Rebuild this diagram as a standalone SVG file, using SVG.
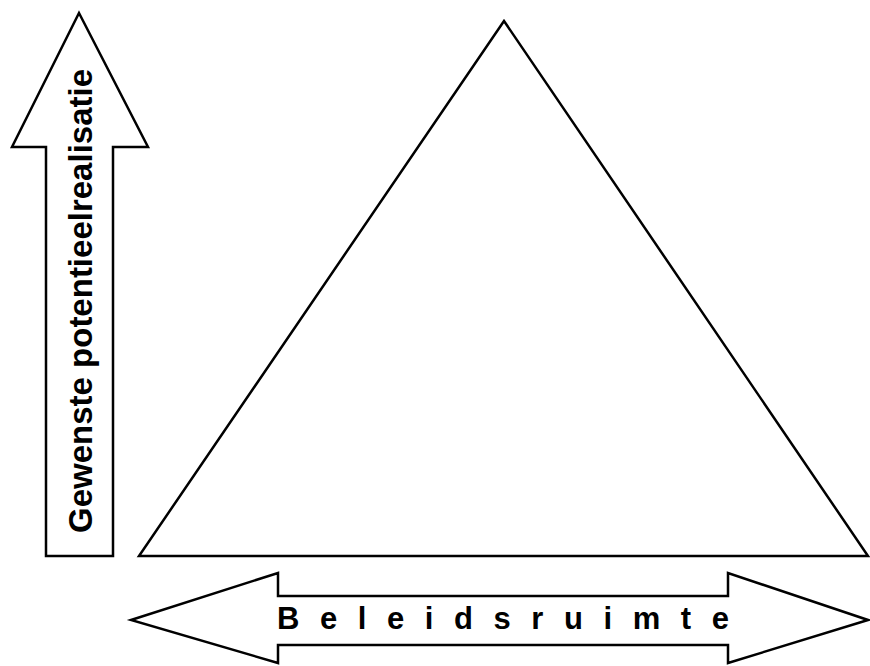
<svg xmlns="http://www.w3.org/2000/svg" width="870" height="666" viewBox="0 0 870 666">
<style>
.shape{fill:#ffffff;stroke:#000000;stroke-width:2.5;stroke-linejoin:miter}
.lbl{font-family:"Liberation Sans",Arial,sans-serif;font-weight:bold;fill:#000000}
</style>
<rect width="870" height="666" fill="#ffffff"/>
<g id="triangle">
<polygon class="shape" points="504,21 868,556 139,556"/>
</g>
<g id="up-arrow">
<polygon class="shape" points="79,13 148,147 113,147 113,556 46,556 46,147 12,147"/>
<text class="lbl" font-size="33" transform="translate(92,533) rotate(-90)">Gewenste potentieelrealisatie</text>
</g>
<g id="double-arrow">
<polygon class="shape" points="131,620 278,573 278,596 728,596 728,573 868,620 728,663 728,645 278,645 278,663"/>
<text class="lbl" font-size="31" x="277" y="629" textLength="452" lengthAdjust="spacing">B e l e i d s r u i m t e</text>
</g>
<g id="connectors"/>
</svg>
